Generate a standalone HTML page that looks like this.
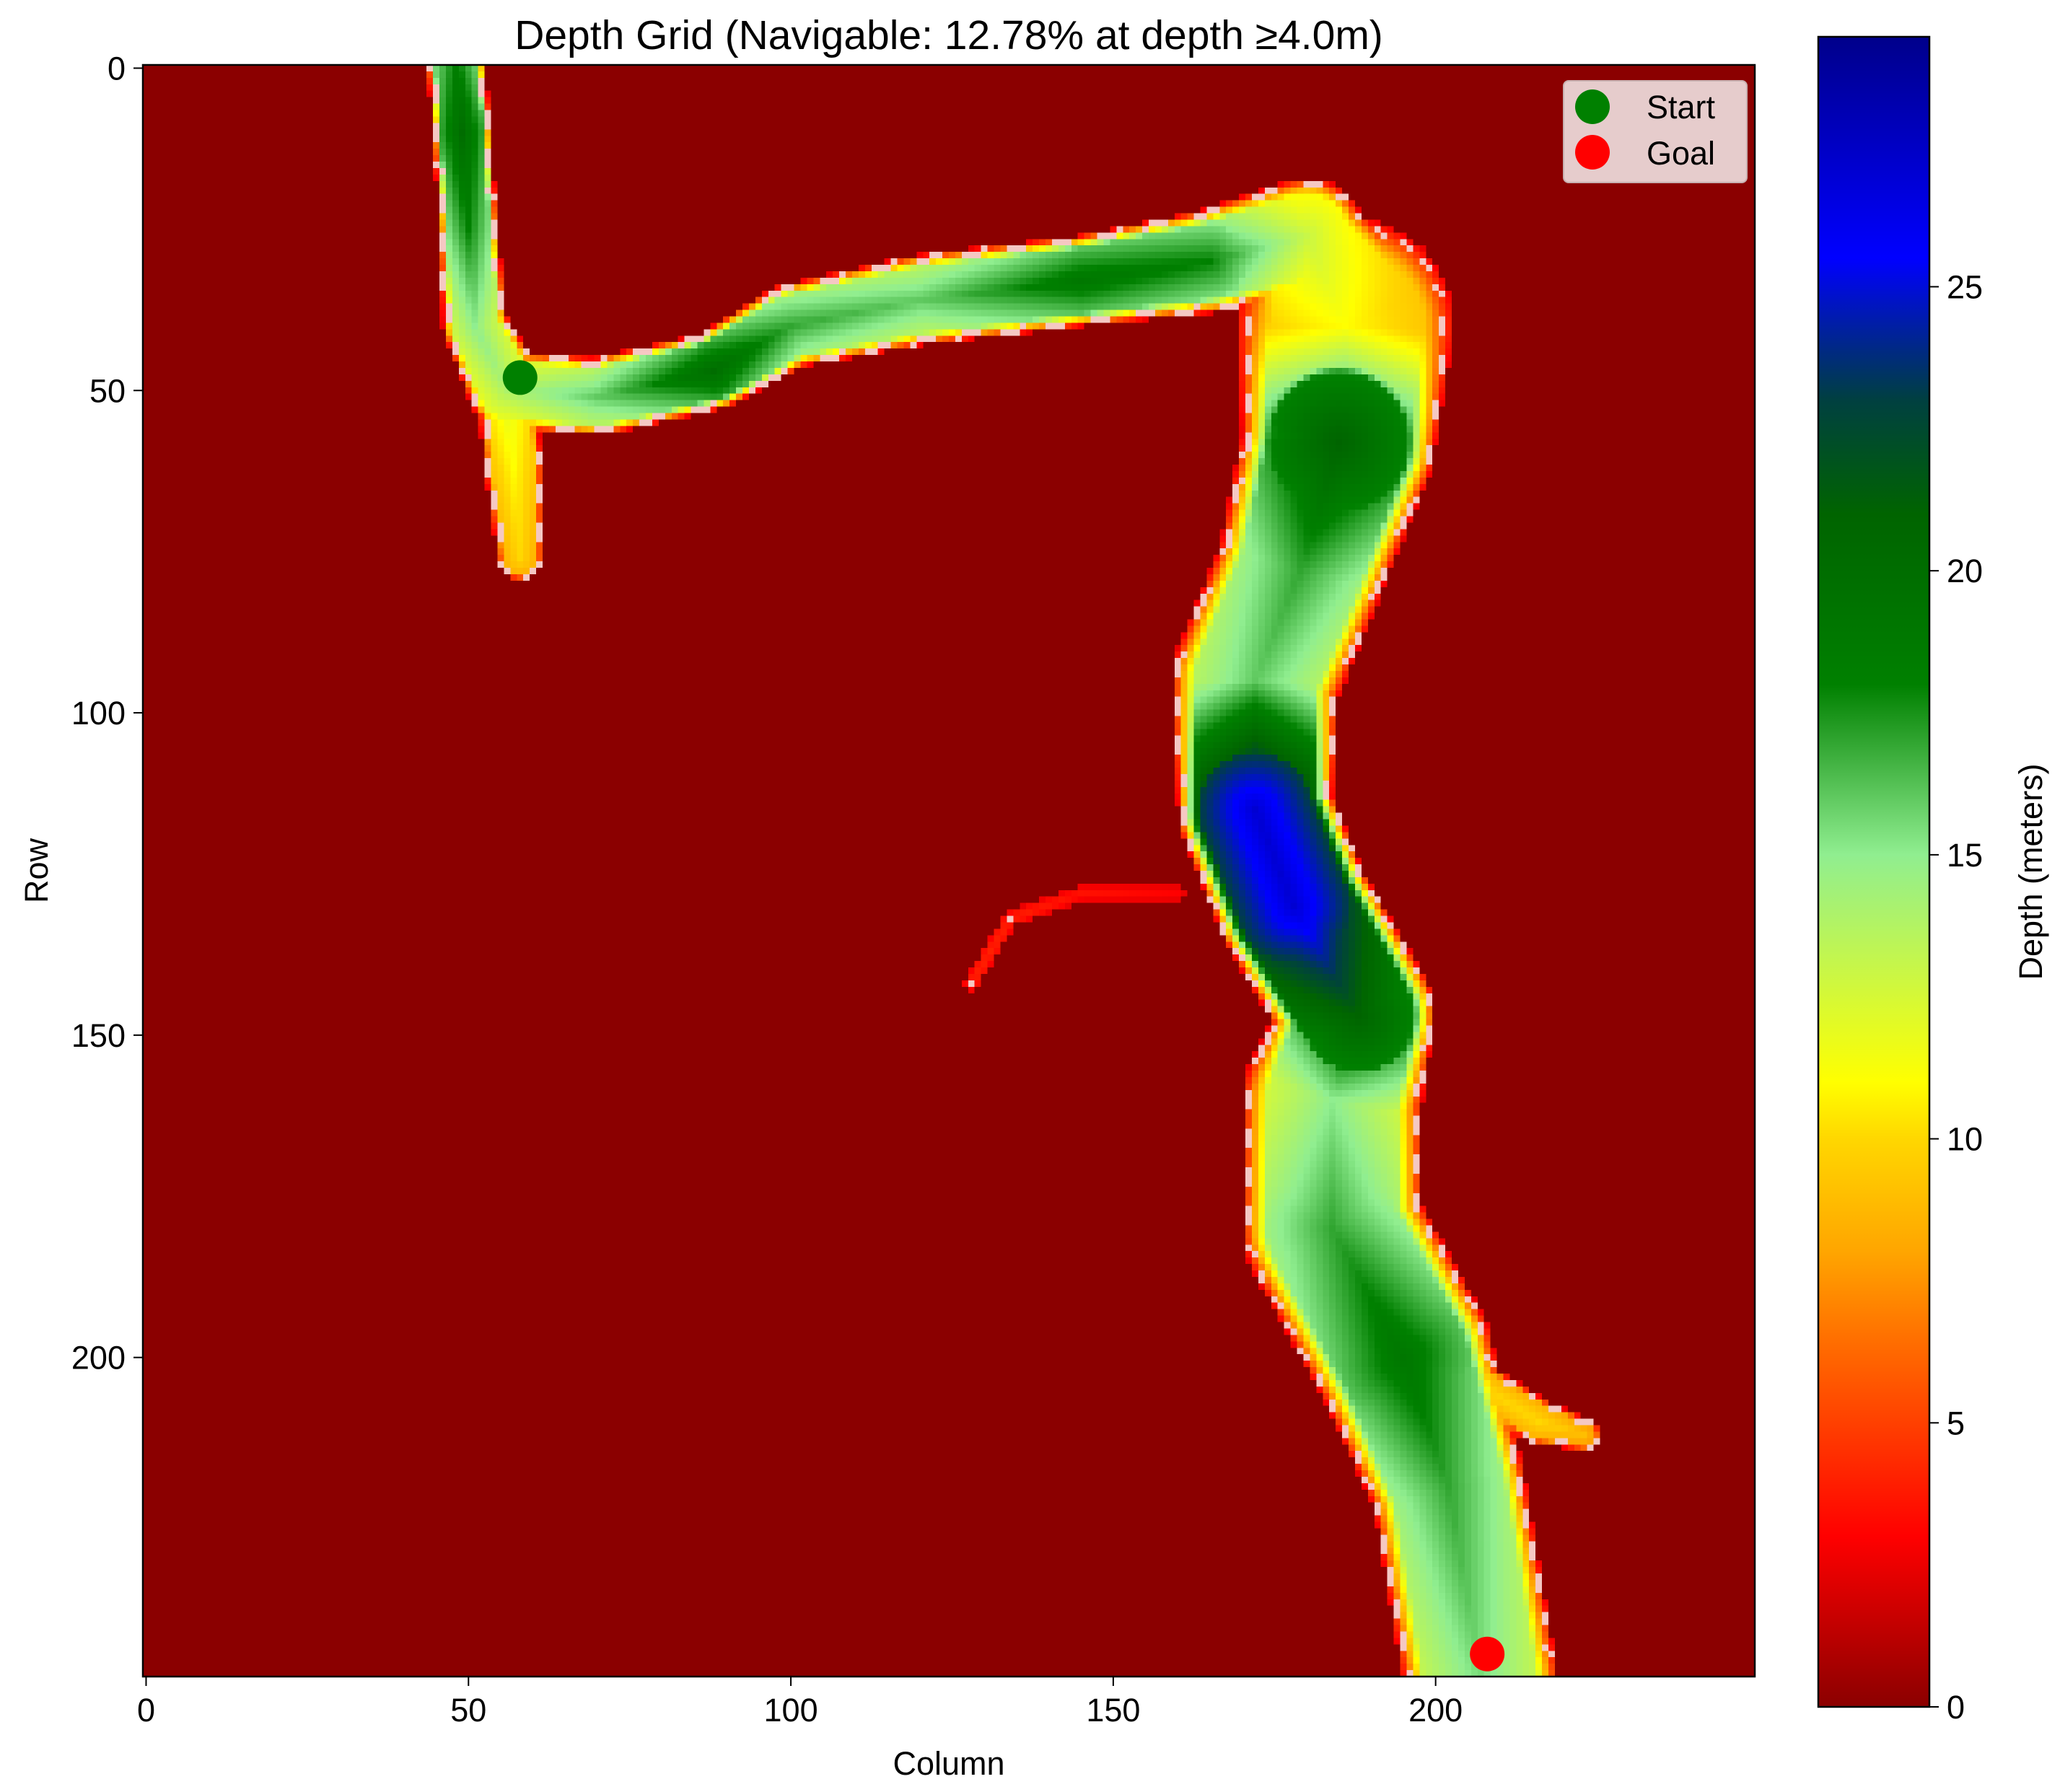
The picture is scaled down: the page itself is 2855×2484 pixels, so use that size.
<!DOCTYPE html>
<html><head><meta charset="utf-8"><style>
html,body{margin:0;padding:0;background:#fff;}
#wrap{position:relative;width:2855px;height:2484px;overflow:hidden;font-family:"Liberation Sans","DejaVu Sans",sans-serif;}
#grid{position:absolute;left:198px;top:90px;width:2234px;height:2234px;image-rendering:pixelated;}
svg{position:absolute;left:0;top:0;}
</style></head><body>
<div id="wrap">
<canvas id="grid" width="250" height="250"></canvas>
<svg id="svg" width="2855" height="2484"></svg>
</div>
<script>
// ---- data (col, row, half-width, max depth) ----
const mainChannel = [[48,-2,4.5,18],[49,10,4.5,20],[50,25,4.5,18],[51,40,5,15],[56,50,6,14],[70,51,6,16],[88,47,6,20],[100,40,6.5,17],[120,36,7,16],[145,33,7,19],[165,30,8,18],[180,26,9,13],[186,40,17,11],[185,58,15,21],[179,78,13,17],[172,95,13,16],[172,115,12,27],[178,130,12,27],[188,147,12,21],[184,160,14,15],[184,180,14,17],[195,200,14,19],[202,220,12,17],[207,250,12,15.5]];
const tributary = [[56,52,4.5,12],[57,62,4.5,11],[58,76,3.5,10]];
const eastBranch = [[208,205,3.5,10],[216,210,3.5,10],[223,212,2.5,9]];
const thinArc = [[160,128,1.2,3],[145,128,1.2,3.5],[134,132,1.2,4],[128,142,1.2,4]];
const channels = [mainChannel, tributary, eastBranch, thinArc];
const startPt = [58,48];
const goalPt = [208,246];
const xTicks = [0,50,100,150,200];
const yTicks = [0,50,100,150,200];
const cbTicks = [0,5,10,15,20,25];
const cmapVals = [0,3,6.5,8,10,11,15,18,21,23,25.5,29.4];
const cmapCols = ['#8b0000','#ff0000','#ff7000','#ffa500','#ffd700','#ffff00','#90ee90','#008000','#006400','#004040','#0000ff','#00008b'];
const VMAX = 29.4, N = 250, THRESH = 4;

function hex(c){return [parseInt(c.substr(1,2),16),parseInt(c.substr(3,2),16),parseInt(c.substr(5,2),16)];}
function cmap(v){
  if(v<=cmapVals[0]) return hex(cmapCols[0]);
  for(let i=1;i<cmapVals.length;i++){
    if(v<=cmapVals[i]){const t=(v-cmapVals[i-1])/(cmapVals[i]-cmapVals[i-1]);const a=hex(cmapCols[i-1]),b=hex(cmapCols[i]);return a.map((x,k)=>Math.round(x+(b[k]-x)*t));}
  }
  return hex(cmapCols[cmapCols.length-1]);
}
const AX={l:198,t:90,w:2234,h:2234};
const xs=c=>AX.l+(c+0.5)*AX.w/N;
const ys=r=>AX.t+(r+0.5)*AX.h/N;
const CB={l:2520,r:2674,t:51,b:2366};
const cby=v=>CB.b-(v/VMAX)*(CB.b-CB.t);

const depth=[];
for(let r=0;r<N;r++){depth.push(new Float32Array(N));}
channels.forEach(pl=>{
  for(let s=0;s<pl.length-1;s++){
    const [x0,y0,w0,d0]=pl[s],[x1,y1,w1,d1]=pl[s+1];
    const dx=x1-x0,dy=y1-y0,L2=dx*dx+dy*dy;
    const mw=Math.max(w0,w1)+1;
    const c0=Math.max(0,Math.floor(Math.min(x0,x1)-mw)),c1=Math.min(N-1,Math.ceil(Math.max(x0,x1)+mw));
    const r0=Math.max(0,Math.floor(Math.min(y0,y1)-mw)),r1=Math.min(N-1,Math.ceil(Math.max(y0,y1)+mw));
    for(let r=r0;r<=r1;r++)for(let c=c0;c<=c1;c++){
      let t=((c-x0)*dx+(r-y0)*dy)/L2;t=Math.max(0,Math.min(1,t));
      const px=x0+dx*t,py=y0+dy*t,d=Math.hypot(c-px,r-py);
      const w=w0+(w1-w0)*t,D=d0+(d1-d0)*t;
      if(d<w){const q=d/w;let v;
        if(q<0.72) v=D*(1-0.15*q/0.72);
        else {const u=(q-0.72)/0.28; v=D*0.85*(1-u)+2.5*u;}
        if(v>depth[r][c])depth[r][c]=v;}
    }
  }
});
const cv=document.getElementById('grid'),ctx=cv.getContext('2d');
const img=ctx.createImageData(N,N);
for(let r=0;r<N;r++)for(let c=0;c<N;c++){
  let col=cmap(depth[r][c]);
  const v=depth[r][c];
  if(v>=THRESH){
    const nb=[[r-1,c],[r+1,c],[r,c-1],[r,c+1]].some(([a,b])=>a>=0&&a<N&&b>=0&&b<N&&depth[a][b]<THRESH);
    if(nb&&((r+c)%6<3)) col=[245,200,195];
  }
  const i=(r*N+c)*4;img.data[i]=col[0];img.data[i+1]=col[1];img.data[i+2]=col[2];img.data[i+3]=255;
}
ctx.putImageData(img,0,0);

const NS='http://www.w3.org/2000/svg';
const svg=document.getElementById('svg');
function el(tag,attrs,parent){const e=document.createElementNS(NS,tag);for(const k in attrs)e.setAttribute(k,attrs[k]);(parent||svg).appendChild(e);return e;}
function txt(s,attrs){const e=el('text',Object.assign({'font-family':'Liberation Sans, DejaVu Sans, sans-serif','font-size':45,fill:'#000'},attrs));e.textContent=s;return e;}

const frame=el('rect',{x:AX.l,y:AX.t,width:AX.w,height:AX.h,fill:'none',stroke:'#000','stroke-width':2.5});



xTicks.forEach(v=>{
  const x=xs(v);
  const t=el('line',{x1:x,x2:x,y1:AX.t+AX.h,y2:AX.t+AX.h+13,stroke:'#000','stroke-width':2});
  
  
  const l=txt(String(v),{x:x,y:AX.t+AX.h+62,'text-anchor':'middle'});
  
  
});
yTicks.forEach(v=>{
  const y=ys(v);
  const t=el('line',{x1:AX.l-13,x2:AX.l,y1:y,y2:y,stroke:'#000','stroke-width':2});
  
  
  const l=txt(String(v),{x:AX.l-24,y:y+16,'text-anchor':'end'});
  
  
});

const title=txt('Depth Grid (Navigable: 12.78% at depth \u22654.0m)',{x:AX.l+AX.w/2,y:68,'text-anchor':'middle','font-size':57});


const xl=txt('Column',{x:AX.l+AX.w/2,y:2460,'text-anchor':'middle'});


const yl=txt('Row',{x:0,y:0,'text-anchor':'middle',transform:'translate(66,'+(AX.t+AX.h/2)+') rotate(-90)'});



const sm=el('circle',{cx:xs(startPt[0]),cy:ys(startPt[1]),r:24,fill:'#008000'});


const gm=el('circle',{cx:xs(goalPt[0]),cy:ys(goalPt[1]),r:24,fill:'#ff0000'});



const lg=el('g',{});


el('rect',{x:2167,y:112,width:254,height:141,rx:7,fill:'#e6cccc',stroke:'#c8b0b0','stroke-width':2},lg);
const le1=el('g',{},lg);


el('circle',{cx:2207,cy:148,r:24,fill:'#008000'},le1);
const t1=txt('Start',{x:2282,y:164});le1.appendChild(t1);
const le2=el('g',{},lg);


el('circle',{cx:2207,cy:211,r:24,fill:'#ff0000'},le2);
const t2=txt('Goal',{x:2282,y:228});le2.appendChild(t2);

const defs=el('defs',{});
const grad=el('linearGradient',{id:'cbg',x1:0,y1:1,x2:0,y2:0},defs);
cmapVals.forEach((v,i)=>el('stop',{offset:(v/VMAX),'stop-color':cmapCols[i]},grad));
const cb=el('rect',{x:CB.l,y:CB.t,width:CB.r-CB.l,height:CB.b-CB.t,fill:'url(#cbg)',stroke:'#000','stroke-width':2.5});


cbTicks.forEach(v=>{
  const y=cby(v);
  const t=el('line',{x1:CB.r,x2:CB.r+13,y1:y,y2:y,stroke:'#000','stroke-width':2});
  
  
  const l=txt(String(v),{x:CB.r+24,y:y+16});
  
  
});
const cbl=txt('Depth (meters)',{x:0,y:0,'text-anchor':'middle',transform:'translate(2830,'+((CB.t+CB.b)/2)+') rotate(-90)'});


</script>
</body></html>
